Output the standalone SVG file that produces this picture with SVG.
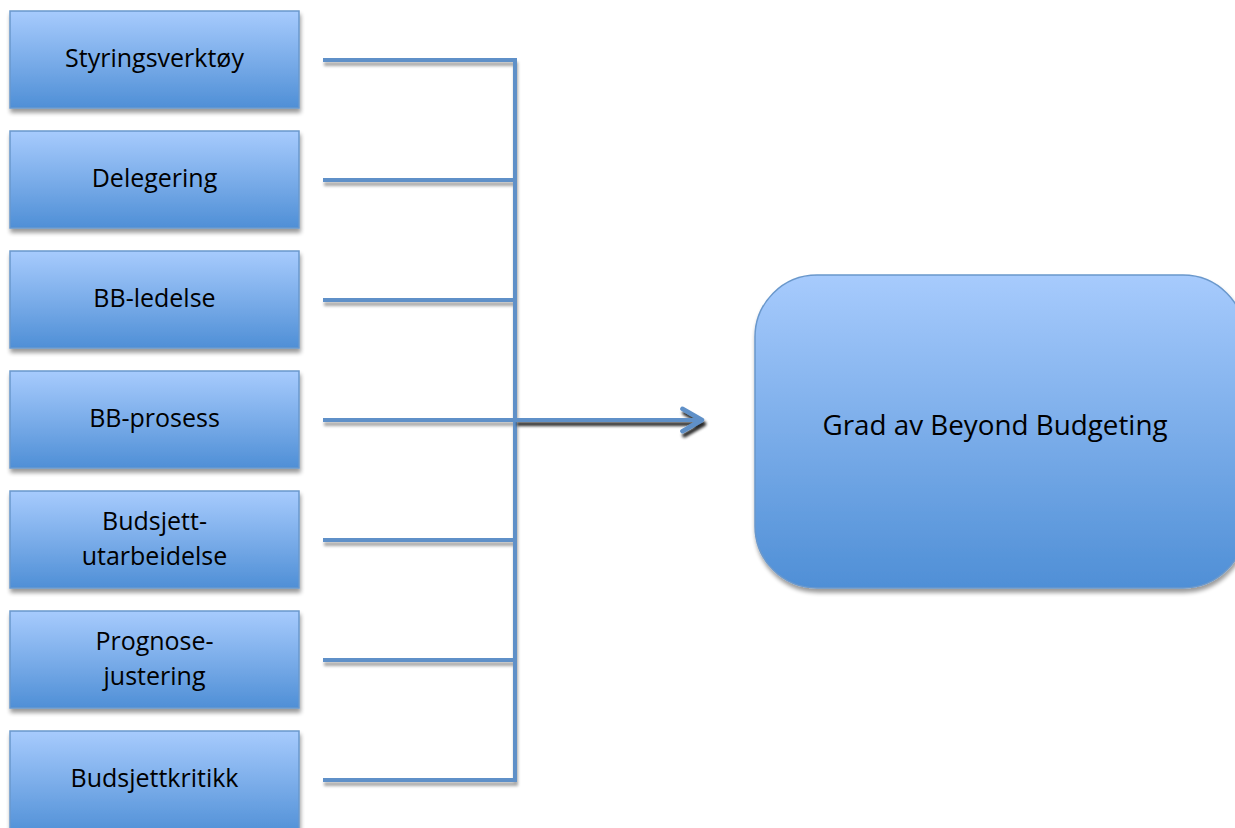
<svg xmlns="http://www.w3.org/2000/svg" width="1235" height="828" viewBox="0 0 1235 828">
<defs>
<linearGradient id="g" x1="0" y1="0" x2="0" y2="1">
<stop offset="0" stop-color="#a7cbfd"/>
<stop offset="1" stop-color="#4f8fd6"/>
</linearGradient>
<filter id="sh" x="-10%" y="-10%" width="120%" height="130%">
<feGaussianBlur in="SourceAlpha" stdDeviation="2"/>
<feOffset dx="1" dy="4" result="b"/>
<feComponentTransfer><feFuncA type="linear" slope="0.4"/></feComponentTransfer>
<feMerge><feMergeNode/><feMergeNode in="SourceGraphic"/></feMerge>
</filter>
<filter id="shl" filterUnits="userSpaceOnUse" x="300" y="30" width="440" height="780">
<feGaussianBlur in="SourceAlpha" stdDeviation="1.5"/>
<feOffset dx="1" dy="4" result="b"/>
<feComponentTransfer><feFuncA type="linear" slope="0.35"/></feComponentTransfer>
<feMerge><feMergeNode/><feMergeNode in="SourceGraphic"/></feMerge>
</filter>
<filter id="sha" filterUnits="userSpaceOnUse" x="500" y="390" width="240" height="60">
<feGaussianBlur in="SourceAlpha" stdDeviation="1.5"/>
<feOffset dx="2" dy="4" result="b"/>
<feComponentTransfer><feFuncA type="linear" slope="0.85"/></feComponentTransfer>
<feMerge><feMergeNode/><feMergeNode in="SourceGraphic"/></feMerge>
</filter>
<marker id="ah" viewBox="0 0 10 10" refX="8" refY="5" markerWidth="7" markerHeight="7" orient="auto" markerUnits="strokeWidth">
<path d="M1,1 L8,5 L1,9" fill="none" stroke="#5f90c8" stroke-width="1.6" stroke-linecap="round" stroke-linejoin="round"/>
</marker>
</defs>
<style>
.box{fill:url(#g);stroke:#6a98cc;stroke-width:1.5;filter:url(#sh)}
.t{font-family:"Open Sans","Liberation Sans",sans-serif;font-size:25px;fill:#000;text-anchor:middle}
.tb{font-family:"Open Sans","Liberation Sans",sans-serif;font-size:27.8px;fill:#000;text-anchor:middle}
.c{fill:none;stroke:#5f90c8;stroke-width:4}
</style>
<g id="connectors">
<path class="c" filter="url(#shl)" d="M323,60 H515 V780 H323 M323,180 H515 M323,300 H515 M323,420 H515 M323,540 H515 M323,660 H515"/>
<path class="c" filter="url(#sha)" d="M515,420 H702" marker-end="url(#ah)"/>
</g>
<g id="n1"><rect class="box" x="10" y="11" width="289" height="97"/><text class="t" x="154.5" y="67">Styringsverktøy</text></g>
<g id="n2"><rect class="box" x="10" y="131" width="289" height="97"/><text class="t" x="154.5" y="187">Delegering</text></g>
<g id="n3"><rect class="box" x="10" y="251" width="289" height="97"/><text class="t" x="154.5" y="307">BB-ledelse</text></g>
<g id="n4"><rect class="box" x="10" y="371" width="289" height="97"/><text class="t" x="154.5" y="427">BB-prosess</text></g>
<g id="n5"><rect class="box" x="10" y="491" width="289" height="97"/><text class="t" x="154.5" y="530">Budsjett-</text><text class="t" x="154.5" y="565">utarbeidelse</text></g>
<g id="n6"><rect class="box" x="10" y="611" width="289" height="97"/><text class="t" x="154.5" y="650">Prognose-</text><text class="t" x="154.5" y="685">justering</text></g>
<g id="n7"><rect class="box" x="10" y="731" width="289" height="105"/><text class="t" x="154.5" y="787">Budsjettkritikk</text></g>
<g id="n8"><rect class="box" x="755" y="275" width="490" height="313" rx="62" ry="62"/><text class="tb" x="995" y="435">Grad av Beyond Budgeting</text></g>
</svg>
